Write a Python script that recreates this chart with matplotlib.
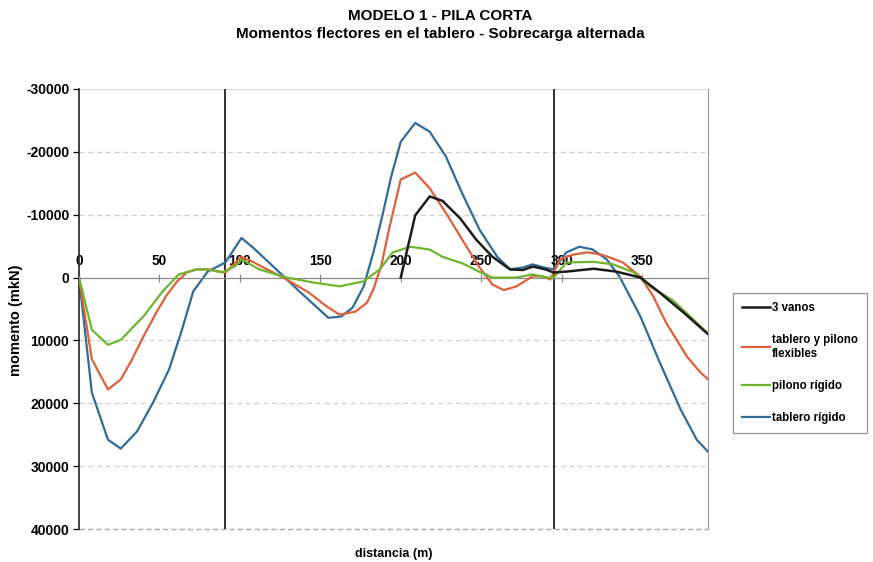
import matplotlib
matplotlib.use('Agg')
import matplotlib.pyplot as plt

plt.rcParams['font.family'] = ['Liberation Sans', 'DejaVu Sans']
plt.rcParams['axes.unicode_minus'] = False

# distancia (m) / momento (mkN)
d_vanos = [200, 209, 218, 226, 237, 247, 257, 268, 276, 282, 290, 295, 303, 320, 334, 349, 361, 376, 391]
m_vanos = [0, -9900, -12900, -12200, -9400, -6000, -3300, -1300, -1200, -1750, -1300, -800, -950, -1400, -950, 0, 2400, 5600, 9000]

d_flex = [0, 8, 18, 26, 33, 40, 48, 54, 61, 67, 73, 80, 91, 101, 108, 117, 129, 143, 154, 162, 172, 179, 183,
          188, 193, 200, 209, 218, 229, 239, 249, 257, 264, 272, 282, 288, 293, 299, 307, 316, 324, 330, 338,
          349, 357, 365, 378, 386, 391]
m_flex = [0, 13000, 17800, 16200, 13000, 9400, 5600, 3000, 600, -800, -1300, -1300, -800, -3300, -2500, -1300,
          300, 2400, 4600, 5900, 5400, 4000, 1900, -2000, -8000, -15600, -16700, -14200, -9900, -5700, -1600,
          1100, 2000, 1400, -200, -200, 300, -2900, -3650, -4000, -3700, -3200, -2400, -150, 3000, 7200, 12600,
          15000, 16200]

d_pilono = [0, 8, 18, 26, 40, 52, 62, 73, 80, 89, 97, 101, 112, 129, 146, 162, 177, 187, 195, 206, 218, 226,
            239, 249, 257, 272, 282, 291, 295, 303, 320, 332, 345, 355, 369, 380, 391]
m_pilono = [0, 8300, 10700, 9900, 6200, 2200, -500, -1300, -1300, -800, -1800, -2900, -1300, 0, 800, 1400, 600,
            -1300, -4000, -4900, -4450, -3300, -2200, -900, 0, 0, -500, 0, 0, -2400, -2500, -2100, -800, 1400,
            3600, 6200, 8900]

d_tablero = [0, 8, 18, 26, 36, 46, 56, 64, 71, 80, 91, 101, 108, 116, 128, 137, 146, 155, 163, 170, 177, 183,
             188, 194, 200, 209, 218, 228, 238, 249, 260, 268, 276, 282, 289, 295, 303, 311, 319, 328, 336, 349,
             361, 374, 384, 391]
m_tablero = [0, 18300, 25800, 27200, 24500, 19900, 14600, 8300, 2200, -950, -2400, -6300, -4800, -2900, 0, 2200,
             4300, 6400, 6200, 4800, 1400, -4000, -9200, -16000, -21600, -24600, -23200, -19300, -13500, -7600,
             -3300, -1300, -1600, -2100, -1600, -1300, -4000, -4900, -4500, -2900, -150, 6200, 13500, 21000,
             25800, 27700]

pilonos = [91, 295]
xticks = [0, 50, 100, 150, 200, 250, 300, 350]
yticks = [-30000, -20000, -10000, 0, 10000, 20000, 30000, 40000]

fig = plt.figure(figsize=(8.73, 5.62), dpi=100)
ax = fig.add_axes([0.0905, 0.0587, 0.7205, 0.783])

for y in yticks[1:]:
    if y != 0:
        ax.axhline(y, color='#c9d2c9', lw=0.9, ls=(0, (4, 3)), zorder=0)
ax.axhline(-30000, color='#d5e0d5', lw=0.9, zorder=0)

for p in pilonos:
    ax.axvline(p, color='#222222', lw=1.3, zorder=1)

ax.plot(d_vanos, m_vanos, color='#1c1c1c', lw=1.8, label='3 vanos', zorder=5)
ax.plot(d_flex, m_flex, color='#e0603a', lw=1.6, label='tablero y pilono\nflexibles', zorder=3)
ax.plot(d_pilono, m_pilono, color='#6db52f', lw=1.6, label='pilono rígido', zorder=4)
ax.plot(d_tablero, m_tablero, color='#2f6c9c', lw=1.6, label='tablero rígido', zorder=2)

ax.set_xlim(0, 391)
ax.set_ylim(40000, -30000)

# x axis drawn along the zero line, labels above it
ax.spines['top'].set_position(('data', 0))
ax.spines['top'].set_color('#8a8a8a')
ax.spines['top'].set_linewidth(0.9)
ax.spines['bottom'].set_visible(False)
ax.spines['right'].set_color('#9a9a9a')
ax.spines['left'].set_color('#222222')
ax.spines['left'].set_linewidth(1.2)
ax.xaxis.set_ticks_position('top')
ax.set_xticks(xticks)
ax.set_xticklabels([str(v) for v in xticks], fontsize=9.8, fontweight='bold')
ax.tick_params(axis='x', direction='inout', length=6, width=0.9, color='#8a8a8a', pad=4)
ax.set_yticks(yticks)
ax.set_yticklabels([str(v) for v in yticks], fontsize=10, fontweight='bold')
ax.tick_params(axis='y', direction='out', length=4, width=0.9, pad=3)
ax.axhline(40000, color='#a8b2a8', lw=1.0, ls=(0, (4, 2)), zorder=0, clip_on=False)

fig.text(0.0183, 0.43, 'momento (mkN)', rotation=90, fontsize=10.5, fontweight='bold',
         ha='center', va='center')
fig.text(0.4505, 0.015, 'distancia (m)', fontsize=9, fontweight='bold', ha='center', va='center')

fig.text(0.504, 0.971, 'MODELO 1 - PILA CORTA', fontsize=11, fontweight='bold', ha='center', va='center')
fig.text(0.504, 0.939, 'Momentos flectores en el tablero - Sobrecarga alternada', fontsize=11,
         fontweight='bold', ha='center', va='center')

leg = fig.legend(loc='upper left', bbox_to_anchor=(0.8396, 0.4786), frameon=True, fancybox=False,
                 handlelength=2.5, handletextpad=0.15, labelspacing=1.75,
                 borderpad=0.75, borderaxespad=0, prop={'weight': 'bold', 'size': 8.3})
leg.get_frame().set_edgecolor('#777777')
leg.get_frame().set_linewidth(0.9)

fig.savefig('out.png', dpi=100)
